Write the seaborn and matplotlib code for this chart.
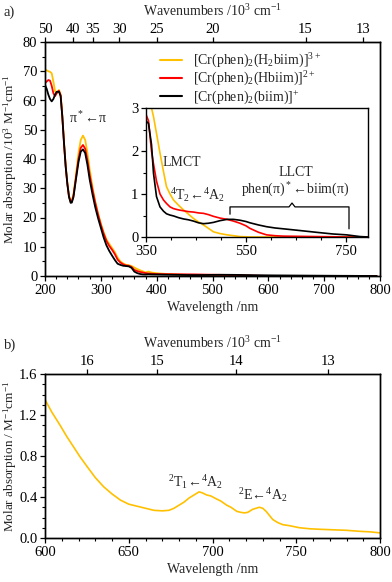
import numpy as np
import pandas as pd
import matplotlib
matplotlib.use("Agg")
import matplotlib.pyplot as plt
import seaborn as sns

# ---------------- data ----------------
# Panel a, UV region (10^3 M^-1 cm^-1)
uv_wl = [200, 203, 206, 209, 212, 215, 218, 221, 225, 228, 231, 234, 237, 240, 243, 246, 248,
         251, 255, 260, 264, 268, 272, 276, 280, 285, 290, 295, 300, 305, 310, 315, 320, 325,
         330, 335, 340, 345, 350, 355, 360, 365, 370, 375, 380]
uv_h2 = [70.7, 70.3, 70.0, 69.8, 69.3, 66.5, 63.2, 62.6, 63.6, 62.0, 55.0, 46.0, 38.0, 32.0, 27.5,
         25.5, 25.6, 28.0, 34.0, 42.0, 46.5, 48.0, 46.5, 42.0, 36.5, 30.5, 25.5, 21.5, 18.0, 15.0,
         12.5, 11.0, 9.6, 8.2, 6.3, 5.0, 4.3, 3.8, 3.7, 3.4, 2.9, 2.4, 2.0, 1.6, 1.2]
uv_h1 = [66.0, 66.5, 67.0, 66.8, 65.0, 62.5, 61.5, 62.5, 63.3, 61.8, 54.5, 45.5, 37.5, 31.5, 27.2,
         25.3, 25.4, 27.5, 33.0, 40.0, 43.8, 44.8, 43.5, 39.5, 34.5, 29.5, 25.0, 21.0, 17.5, 14.5,
         12.0, 10.3, 9.0, 7.5, 5.6, 4.6, 4.0, 3.6, 3.5, 3.1, 2.1, 1.7, 1.4, 1.2, 1.0]
uv_h0 = [65.3, 64.0, 62.0, 60.5, 59.7, 60.5, 62.0, 63.0, 63.0, 61.5, 54.5, 45.5, 37.5, 31.5, 27.0,
         25.0, 25.1, 27.0, 32.5, 39.0, 42.5, 43.3, 42.0, 38.0, 33.0, 28.0, 23.5, 19.8, 16.5, 13.2,
         10.5, 8.6, 7.0, 5.5, 4.2, 3.8, 3.5, 3.4, 3.3, 2.8, 1.5, 1.0, 0.7, 0.55, 0.5]

# Inset, visible region (10^3 M^-1 cm^-1)
vis_wl = [350, 355, 361, 365, 371, 378, 385, 391, 398, 405, 415, 425, 435, 445, 455, 465, 475,
          485, 498, 512, 525, 538, 550, 558, 575, 591, 608, 625, 658, 690, 724, 751, 778, 794]
vis_h2 = [3.6, 3.4, 3.0, 2.8, 2.41, 1.95, 1.52, 1.17, 1.0, 0.86, 0.74, 0.63, 0.53, 0.43, 0.35,
          0.28, 0.2, 0.12, 0.08, 0.05, 0.03, 0.01, 0.005, 0.0, 0.0, 0.0, 0.0, 0.0, 0.0, 0.0,
          0.0, 0.0, 0.0, 0.0]
vis_h1 = [2.85, 2.7, 2.0, 1.7, 1.3, 1.0, 0.86, 0.78, 0.7, 0.66, 0.63, 0.61, 0.59, 0.58, 0.56,
          0.55, 0.52, 0.48, 0.44, 0.41, 0.37, 0.32, 0.26, 0.2, 0.11, 0.05, 0.03, 0.02, 0.015,
          0.01, 0.005, 0.0, 0.0, 0.0]
vis_h0 = [2.7, 2.64, 2.15, 1.48, 0.94, 0.7, 0.6, 0.54, 0.51, 0.49, 0.45, 0.42, 0.4, 0.37, 0.33,
          0.31, 0.32, 0.34, 0.38, 0.41, 0.41, 0.39, 0.36, 0.33, 0.28, 0.24, 0.21, 0.19, 0.15,
          0.11, 0.07, 0.05, 0.01, 0.0]

# Panel b (M^-1 cm^-1), [Cr(phen)2(H2biim)]3+
b_wl = [600, 604, 609, 613, 617, 621, 625, 630, 635, 640, 645, 650, 655, 660, 665, 670, 674,
        677, 680, 683, 686, 689, 692, 694, 696.5, 699, 702.5, 705, 708.5, 711, 714.5, 717, 719,
        721, 724, 726, 728, 730, 732, 734, 736, 739, 742, 746, 752, 758, 764, 772, 780, 788, 794, 800]
b_eps = [1.35, 1.23, 1.10, 0.99, 0.89, 0.79, 0.70, 0.59, 0.50, 0.43, 0.37, 0.33, 0.31, 0.29,
         0.27, 0.265, 0.27, 0.29, 0.32, 0.35, 0.39, 0.42, 0.45, 0.44, 0.42, 0.41, 0.38, 0.36, 0.32,
         0.3, 0.26, 0.25, 0.245, 0.25, 0.28, 0.29, 0.30, 0.29, 0.26, 0.22, 0.18, 0.15, 0.13,
         0.12, 0.10, 0.09, 0.085, 0.08, 0.075, 0.065, 0.06, 0.05]

labels = [r"[Cr(phen)$_2$(H$_2$biim)]$^{3+}$",
          r"[Cr(phen)$_2$(Hbiim)]$^{2+}$",
          r"[Cr(phen)$_2$(biim)]$^{+}$"]
colors = ["#FFC000", "#FF0000", "#000000"]

top_a_ticks = [50, 40, 35, 30, 25, 20, 15, 13]
top_b_ticks = [16, 15, 14, 13]

# ---------------- style ----------------
sns.set_style("ticks")
plt.rcParams["font.family"] = ["Liberation Serif", "DejaVu Serif"]
plt.rcParams["mathtext.fontset"] = "custom"
plt.rcParams["mathtext.rm"] = "Liberation Serif"
plt.rcParams["mathtext.it"] = "Liberation Serif:italic"
plt.rcParams["mathtext.bf"] = "Liberation Serif:bold"
plt.rcParams["axes.linewidth"] = 1.0
plt.rcParams["axes.edgecolor"] = "black"
for a in ("x", "y"):
    plt.rcParams[f"{a}tick.color"] = "black"
    plt.rcParams[f"{a}tick.major.size"] = 3.5
    plt.rcParams[f"{a}tick.minor.size"] = 2
    plt.rcParams[f"{a}tick.major.width"] = 0.9
    plt.rcParams[f"{a}tick.minor.width"] = 0.8
    plt.rcParams[f"{a}tick.direction"] = "out"

FS = 10
TS = 10.5
YS = 9.5
fig = plt.figure(figsize=(3.92, 5.82), dpi=100)
ax_a = fig.add_axes([45/392, 1-276/582, 335/392, 234/582])
ax_b = fig.add_axes([45/392, 1-538/582, 335/392, 164/582])
ax_in = fig.add_axes([146/392, 1-237/582, 222/392, 129/582])

# main a
series = [uv_h2, uv_h1, uv_h0]
vseries = [vis_h2, vis_h1, vis_h0]
rows = []
for lab, uv, vis in zip(labels, series, vseries):
    for w, v in zip(uv_wl, uv):
        rows.append((w, v, lab))
    for w, v in zip(vis_wl, vis):
        if w > uv_wl[-1]:
            rows.append((w, v, lab))
df_a = pd.DataFrame(rows, columns=["wl", "eps", "cpd"])
sns.lineplot(data=df_a, x="wl", y="eps", hue="cpd", hue_order=labels,
             palette=dict(zip(labels, colors)), ax=ax_a, lw=1.3, legend=False, sort=True)
ax_a.set_xlim(200, 800)
ax_a.set_ylim(0, 80)
ax_a.set_xticks(range(200, 801, 100))
ax_a.set_xticks(range(200, 801, 20), minor=True)
ax_a.set_yticks(range(0, 81, 10))
ax_a.set_yticks(range(0, 81, 5), minor=True)
ax_a.set_xlabel("Wavelength /nm", fontsize=FS, labelpad=3)
ax_a.set_ylabel(r"Molar absorption /10$^3$ M$^{-1}$cm$^{-1}$", fontsize=YS)
ax_a.yaxis.set_label_coords(-0.078, 0.5)
ax_a.tick_params(labelsize=TS, pad=2)
ax_a.tick_params(axis="both", which="both", right=False)

handles = [plt.Line2D([], [], color=c, lw=1.5) for c in colors]
ax_a.legend(handles, labels, loc="upper left",
            bbox_to_anchor=((160 - 45) / 335, (276 - 52) / 234), frameon=False,
            fontsize=FS, handlelength=1.6, handletextpad=0.8, labelspacing=0.0, borderpad=0.0,
            borderaxespad=0.0)
ax_a.text(277, 54, r"π$^*$←π", fontsize=FS, ha="center", va="center")

tw_a = ax_a.twiny()
tw_a.set_xlim(ax_a.get_xlim())
tw_a.set_xticks([1e4 / k for k in top_a_ticks])
tw_a.set_xticklabels([str(k) for k in top_a_ticks])
tw_a.tick_params(labelsize=TS, pad=1)
tw_a.set_xlabel(r"Wavenumbers /10$^3$ cm$^{-1}$", fontsize=FS, labelpad=5)

# inset
rows = []
for lab, vis in zip(labels, vseries):
    for w, v in zip(vis_wl, vis):
        rows.append((w, v, lab))
df_in = pd.DataFrame(rows, columns=["wl", "eps", "cpd"])
sns.lineplot(data=df_in, x="wl", y="eps", hue="cpd", hue_order=labels,
             palette=dict(zip(labels, colors)), ax=ax_in, lw=1.2, legend=False)
ax_in.set_xlim(350, 794)
ax_in.set_ylim(0, 3)
ax_in.set_xticks([350, 550, 750])
ax_in.set_xticks(range(350, 794, 50), minor=True)
ax_in.set_yticks([0, 1, 2, 3])
ax_in.set_yticks(np.arange(0, 3.01, 0.5), minor=True)
ax_in.set_xlabel("")
ax_in.set_ylabel("")
ax_in.tick_params(labelsize=TS, pad=2)
ax_in.patch.set_facecolor("white")
ax_in.text(422, 1.74, "LMCT", fontsize=FS, ha="center", va="center")
ax_in.text(452, 0.98, r"$^4$T$_2$←$^4$A$_2$", fontsize=FS, ha="center", va="center")
ax_in.text(650, 1.49, "LLCT", fontsize=FS, ha="center", va="center")
ax_in.text(648, 1.09, r"phen(π)$^*$←biim(π)", fontsize=FS, ha="center", va="center")
bx = [518, 518, 636, 642, 648, 756, 756]
by = [0.53, 0.70, 0.70, 0.79, 0.70, 0.70, 0.19]
ax_in.plot(bx, by, color="black", lw=0.9)

# panel b
df_b = pd.DataFrame({"wl": b_wl, "eps": b_eps})
sns.lineplot(data=df_b, x="wl", y="eps", color=colors[0], lw=1.2, ax=ax_b)
ax_b.set_xlim(600, 800)
ax_b.set_ylim(0, 1.6)
ax_b.set_xticks(range(600, 801, 50))
ax_b.set_xticks(range(600, 801, 10), minor=True)
ax_b.set_yticks(np.arange(0, 1.61, 0.4))
ax_b.set_yticklabels([f"{v:.1f}" for v in np.arange(0, 1.61, 0.4)])
ax_b.set_yticks(np.arange(0, 1.61, 0.1), minor=True)
ax_b.set_xlabel("Wavelength /nm", fontsize=FS, labelpad=3)
ax_b.set_ylabel(r"Molar absorption / M$^{-1}$cm$^{-1}$", fontsize=YS)
ax_b.yaxis.set_label_coords(-0.078, 0.5)
ax_b.tick_params(labelsize=TS, pad=2)
ax_b.text(690, 0.55, r"$^2$T$_1$←$^4$A$_2$", fontsize=FS, ha="center", va="center")
ax_b.text(730, 0.42, r"$^2$E←$^4$A$_2$", fontsize=FS, ha="center", va="center")

tw_b = ax_b.twiny()
tw_b.set_xlim(ax_b.get_xlim())
tw_b.set_xticks([1e4 / k for k in top_b_ticks])
tw_b.set_xticklabels([str(k) for k in top_b_ticks])
tw_b.tick_params(labelsize=TS, pad=1)
tw_b.set_xlabel(r"Wavenumbers /10$^3$ cm$^{-1}$", fontsize=FS, labelpad=5)

fig.text(4/392, 1-12/582, "a)", fontsize=FS + 0.5, va="center", ha="left")
fig.text(4/392, 1-345/582, "b)", fontsize=FS + 0.5, va="center", ha="left")

fig.savefig("out.png", dpi=100)
